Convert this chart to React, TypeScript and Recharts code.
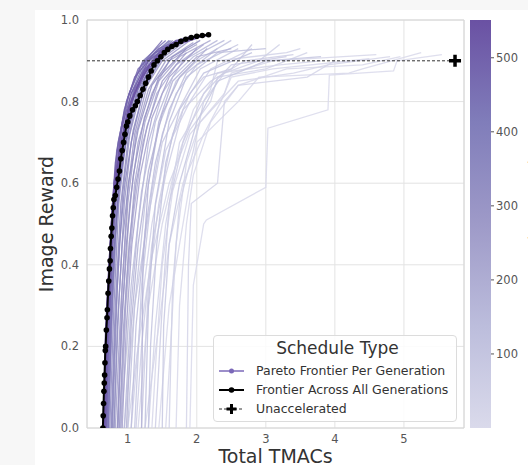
import {
  LineChart,
  Line,
  XAxis,
  YAxis,
  CartesianGrid,
  ReferenceArea,
  Legend,
  BarChart,
  Bar,
} from 'recharts';

const FONT = '"DejaVu Sans", sans-serif';

const X_TICKS = [1, 2, 3, 4, 5];
const Y_TICKS = [0, 0.2, 0.4, 0.6, 0.8, 1.0];
const CBAR_TICKS = [100, 200, 300, 400, 500];
const CBAR_MAX = 551;
const X_DOMAIN: [number, number] = [0.41, 5.87];

const UNACCEL_REWARD = 0.9;
const UNACCEL_TMACS = 5.74;

// generation number of every pareto curve, same order as PARETO_CURVES
const PARETO_GENERATIONS = [
  3, 8, 10, 12, 18, 20, 25, 30, 35, 40, 45, 50, 60, 65, 70, 80, 90, 100, 110, 115, 130, 140, 145,
  160, 180, 190, 200, 220, 240, 250, 260, 270, 280, 300, 310, 320, 330, 340, 360, 370, 380, 400,
  410, 420, 440, 450, 460, 470, 480, 490, 500, 510, 520, 530, 540, 545,
];

// [total TMACs, image reward]
const PARETO_CURVES: [number, number][][] = [
  [[1.9, 0], [1.95, 0.35], [2.1, 0.5], [2.14, 0.51], [3.0, 0.59], [3.03, 0.735], [3.9, 0.78], [3.92, 0.865], [4.85, 0.875], [4.9, 0.9], [5.55, 0.915]],
  [[1.45, 0], [1.6, 0.3], [1.75, 0.45], [1.9, 0.6], [2.0, 0.7], [2.6, 0.8], [2.9, 0.86], [4.2, 0.87], [4.4, 0.88], [5.25, 0.92]],
  [[1.7, 0], [1.75, 0.3], [1.85, 0.5], [1.95, 0.62], [2.2, 0.75], [2.6, 0.84], [3.3, 0.88], [4.4, 0.89], [4.95, 0.91]],
  [[1.25, 0], [1.45, 0.25], [1.6, 0.45], [1.8, 0.6], [2.1, 0.72], [2.35, 0.8], [2.5, 0.86], [3.1, 0.88], [4.5, 0.905]],
  [[1.55, 0], [1.62, 0.2], [1.7, 0.45], [1.85, 0.65], [2.05, 0.75], [2.6, 0.85], [3.4, 0.87], [3.9, 0.89], [4.8, 0.91]],
  [[1.35, 0], [1.42, 0.2], [1.5, 0.4], [1.65, 0.58], [1.9, 0.72], [2.4, 0.82], [2.5, 0.87], [3.1, 0.9], [4.6, 0.915]],
  [[1.15, 0], [1.3, 0.3], [1.5, 0.5], [1.7, 0.65], [1.95, 0.78], [2.3, 0.87], [3.2, 0.89], [3.8, 0.9]],
  [[1.85, 0], [1.88, 0.4], [1.92, 0.55], [2.3, 0.6], [2.4, 0.8], [2.6, 0.84], [3.6, 0.86], [4.0, 0.9]],
  [[1.0, 0], [1.15, 0.2], [1.35, 0.42], [1.6, 0.6], [1.9, 0.73], [2.2, 0.8], [2.3, 0.86], [3.0, 0.88], [3.6, 0.92]],
  [[1.3, 0], [1.4, 0.25], [1.55, 0.5], [1.75, 0.7], [2.2, 0.83], [2.3, 0.9], [3.3, 0.92], [3.5, 0.93]],
  [[1.6, 0], [1.65, 0.35], [1.75, 0.55], [1.95, 0.68], [2.1, 0.8], [2.4, 0.87], [2.9, 0.9], [3.2, 0.94]],
  [[1.05, 0], [1.2, 0.3], [1.35, 0.5], [1.55, 0.68], [1.9, 0.8], [2.2, 0.88], [2.8, 0.93]],
  [[1.4, 0], [1.5, 0.3], [1.6, 0.55], [1.8, 0.7], [2.1, 0.82], [2.5, 0.89], [3.3, 0.91]],
  [[1.12, 0], [1.2, 0.2], [1.35, 0.45], [1.55, 0.62], [1.8, 0.78], [2.2, 0.85], [2.7, 0.9], [3.4, 0.915]],
  [[1.2, 0], [1.3, 0.35], [1.45, 0.55], [1.65, 0.72], [1.9, 0.82], [2.1, 0.86], [2.5, 0.88], [2.8, 0.94]],
  [[0.95, 0], [1.1, 0.3], [1.3, 0.52], [1.5, 0.7], [1.8, 0.8], [2.05, 0.88], [2.6, 0.93]],
  [[1.5, 0], [1.52, 0.25], [1.6, 0.45], [1.75, 0.6], [2.0, 0.75], [2.3, 0.85], [3.0, 0.9], [3.8, 0.91]],
  [[1.1, 0], [1.2, 0.35], [1.35, 0.58], [1.5, 0.72], [1.7, 0.82], [2.0, 0.89], [2.6, 0.94]],
  [[1.3, 0], [1.33, 0.2], [1.42, 0.45], [1.55, 0.65], [1.75, 0.78], [2.1, 0.87], [2.8, 0.92]],
  [[1.0, 0], [1.1, 0.3], [1.25, 0.55], [1.45, 0.74], [1.7, 0.85], [2.0, 0.9], [2.5, 0.95]],
  [[1.25, 0], [1.3, 0.3], [1.4, 0.55], [1.6, 0.75], [1.85, 0.86], [2.3, 0.92], [3.0, 0.93]],
  [[1.05, 0], [1.12, 0.25], [1.25, 0.48], [1.4, 0.65], [1.6, 0.78], [1.85, 0.87], [2.3, 0.93]],
  [[0.9, 0], [1.05, 0.35], [1.2, 0.58], [1.4, 0.75], [1.65, 0.86], [1.95, 0.91], [2.4, 0.95]],
  [[0.95, 0], [1.05, 0.3], [1.15, 0.5], [1.3, 0.7], [1.5, 0.82], [1.8, 0.9], [2.3, 0.95]],
  [[1.2, 0], [1.22, 0.4], [1.3, 0.6], [1.45, 0.75], [1.65, 0.85], [2.0, 0.91], [2.5, 0.93]],
  [[0.98, 0], [1.05, 0.25], [1.15, 0.45], [1.3, 0.63], [1.5, 0.77], [1.75, 0.86], [2.15, 0.93]],
  [[0.88, 0], [0.97, 0.3], [1.08, 0.52], [1.22, 0.7], [1.42, 0.82], [1.7, 0.89], [2.1, 0.94]],
  [[0.9, 0], [0.98, 0.35], [1.1, 0.6], [1.25, 0.75], [1.45, 0.85], [1.75, 0.91], [2.2, 0.95]],
  [[0.85, 0], [0.93, 0.3], [1.03, 0.55], [1.15, 0.7], [1.35, 0.82], [1.6, 0.9], [2.0, 0.94]],
  [[0.92, 0], [0.98, 0.25], [1.06, 0.45], [1.18, 0.62], [1.35, 0.76], [1.6, 0.86], [2.0, 0.93]],
  [[0.82, 0], [0.9, 0.3], [1.0, 0.55], [1.12, 0.72], [1.3, 0.83], [1.55, 0.9], [1.95, 0.945]],
  [[0.88, 0], [0.94, 0.25], [1.02, 0.45], [1.12, 0.6], [1.28, 0.74], [1.5, 0.85], [1.85, 0.92]],
  [[0.85, 0], [0.92, 0.35], [1.0, 0.58], [1.1, 0.72], [1.28, 0.84], [1.5, 0.9], [1.9, 0.95]],
  [[0.8, 0], [0.87, 0.3], [0.95, 0.55], [1.05, 0.7], [1.22, 0.82], [1.45, 0.9], [1.85, 0.95]],
  [[0.86, 0], [0.91, 0.25], [0.98, 0.45], [1.08, 0.62], [1.24, 0.76], [1.45, 0.86], [1.85, 0.93]],
  [[0.78, 0], [0.85, 0.35], [0.93, 0.58], [1.03, 0.72], [1.18, 0.82], [1.4, 0.9], [1.8, 0.95]],
  [[0.8, 0], [0.85, 0.25], [0.92, 0.45], [1.01, 0.6], [1.15, 0.73], [1.35, 0.84], [1.65, 0.91], [2.05, 0.95]],
  [[0.76, 0], [0.82, 0.3], [0.9, 0.55], [1.0, 0.7], [1.15, 0.82], [1.35, 0.89], [1.7, 0.945]],
  [[0.74, 0], [0.8, 0.3], [0.87, 0.55], [0.97, 0.7], [1.12, 0.82], [1.32, 0.9], [1.7, 0.95]],
  [[0.77, 0], [0.82, 0.25], [0.88, 0.45], [0.96, 0.6], [1.08, 0.73], [1.25, 0.84], [1.55, 0.92]],
  [[0.72, 0], [0.78, 0.3], [0.85, 0.55], [0.95, 0.7], [1.1, 0.82], [1.3, 0.9], [1.65, 0.95]],
  [[0.71, 0], [0.76, 0.3], [0.83, 0.55], [0.93, 0.7], [1.07, 0.82], [1.27, 0.9], [1.62, 0.95]],
  [[0.7, 0], [0.74, 0.2], [0.79, 0.4], [0.85, 0.55], [0.94, 0.67], [1.08, 0.78], [1.28, 0.87], [1.6, 0.93]],
  [[0.7, 0], [0.75, 0.3], [0.81, 0.55], [0.9, 0.7], [1.05, 0.82], [1.25, 0.9], [1.6, 0.95]],
  [[0.69, 0], [0.73, 0.3], [0.8, 0.55], [0.88, 0.7], [1.02, 0.82], [1.22, 0.9], [1.55, 0.95]],
  [[0.72, 0], [0.76, 0.25], [0.81, 0.45], [0.88, 0.6], [0.99, 0.72], [1.15, 0.83], [1.42, 0.91], [1.8, 0.95]],
  [[0.68, 0], [0.72, 0.3], [0.78, 0.55], [0.86, 0.7], [1.0, 0.81], [1.2, 0.89], [1.5, 0.95]],
  [[0.68, 0], [0.72, 0.22], [0.77, 0.42], [0.82, 0.56], [0.91, 0.68], [1.04, 0.79], [1.22, 0.87], [1.5, 0.93], [1.85, 0.955]],
  [[0.67, 0], [0.71, 0.3], [0.77, 0.52], [0.84, 0.68], [0.98, 0.8], [1.15, 0.88], [1.45, 0.93], [1.8, 0.955]],
  [[0.69, 0], [0.73, 0.25], [0.78, 0.45], [0.84, 0.6], [0.94, 0.72], [1.1, 0.83], [1.35, 0.9], [1.7, 0.94]],
  [[0.66, 0], [0.7, 0.3], [0.76, 0.5], [0.82, 0.65], [0.95, 0.78], [1.1, 0.86], [1.4, 0.92], [1.9, 0.96]],
  [[0.67, 0], [0.7, 0.2], [0.75, 0.4], [0.8, 0.55], [0.88, 0.66], [1.0, 0.77], [1.17, 0.85], [1.4, 0.91], [1.75, 0.95]],
  [[0.65, 0], [0.69, 0.25], [0.75, 0.45], [0.8, 0.6], [0.92, 0.74], [1.05, 0.82], [1.3, 0.9], [1.7, 0.95], [2.1, 0.96]],
  [[0.66, 0], [0.7, 0.25], [0.75, 0.43], [0.8, 0.58], [0.9, 0.7], [1.04, 0.8], [1.25, 0.88], [1.55, 0.93], [2.0, 0.955]],
  [[0.64, 0], [0.68, 0.25], [0.74, 0.42], [0.78, 0.55], [0.88, 0.68], [1.0, 0.78], [1.2, 0.86], [1.45, 0.91], [1.8, 0.95], [2.2, 0.963]],
  [[0.65, 0], [0.68, 0.2], [0.72, 0.38], [0.77, 0.52], [0.85, 0.64], [0.96, 0.74], [1.1, 0.82], [1.32, 0.89], [1.6, 0.935], [2.0, 0.958]],
];

const FRONTIER: [number, number][] = [
  [0.64, 0.0], [0.645, 0.03], [0.65, 0.06], [0.655, 0.09], [0.66, 0.11], [0.665, 0.13], [0.67, 0.16],
  [0.675, 0.19], [0.68, 0.2], [0.69, 0.24], [0.7, 0.27], [0.705, 0.29], [0.715, 0.33], [0.725, 0.36],
  [0.735, 0.39], [0.745, 0.41], [0.75, 0.44], [0.76, 0.47], [0.77, 0.49], [0.78, 0.52], [0.79, 0.54],
  [0.8, 0.56], [0.82, 0.57], [0.84, 0.59], [0.86, 0.61], [0.88, 0.63], [0.9, 0.66], [0.92, 0.68],
  [0.94, 0.7], [0.96, 0.72], [0.98, 0.74], [1.0, 0.75], [1.03, 0.765], [1.07, 0.78], [1.11, 0.79],
  [1.14, 0.8], [1.18, 0.815], [1.22, 0.83], [1.26, 0.845], [1.3, 0.86], [1.34, 0.875], [1.38, 0.89],
  [1.43, 0.9], [1.48, 0.91], [1.53, 0.92], [1.58, 0.928], [1.64, 0.935], [1.7, 0.94], [1.77, 0.948],
  [1.84, 0.953], [1.92, 0.957], [2.0, 0.96], [2.08, 0.962], [2.17, 0.964],
];

const PURPLES = ['#fcfbfd', '#efedf5', '#dadaeb', '#bcbddc', '#9e9ac8', '#807dba', '#6a51a3', '#54278f', '#3f007d'];

function hexToRgb(h: string) {
  return [1, 3, 5].map((i) => parseInt(h.slice(i, i + 2), 16));
}

function purples(t: number) {
  const p = Math.max(0, Math.min(1, t)) * (PURPLES.length - 1);
  const i = Math.min(Math.floor(p), PURPLES.length - 2);
  const f = p - i;
  const a = hexToRgb(PURPLES[i]);
  const b = hexToRgb(PURPLES[i + 1]);
  const c = a.map((v, k) => Math.round(v + (b[k] - v) * f));
  return `rgb(${c[0]},${c[1]},${c[2]})`;
}

// colorbar covers the middle half of the Purples map
const genColor = (gen: number) => purples(0.25 + (0.5 * gen) / CBAR_MAX);

const toPoints = (pts: [number, number][]) => pts.map(([x, y]) => ({ x, y }));

function PlusMarker(props: any) {
  const { cx, cy, index } = props;
  if (index !== 1 || cx == null) return <g key={`u-${index}`} />;
  return (
    <path
      key={`u-${index}`}
      d={`M${cx - 6},${cy}H${cx + 6}M${cx},${cy - 6}V${cy + 6}`}
      stroke="#000"
      strokeWidth={3.5}
    />
  );
}

function LegendBox() {
  const row = { display: 'flex', alignItems: 'center', height: 19, fontSize: 12.5 } as const;
  return (
    <div
      style={{
        width: 244,
        height: 87,
        boxSizing: 'border-box',
        border: '1px solid #dcdcdc',
        borderRadius: 4,
        background: 'rgba(255,255,255,0.85)',
        fontFamily: FONT,
        color: '#333',
        paddingLeft: 5,
      }}
    >
      <div style={{ fontSize: 17, textAlign: 'center', lineHeight: '20px', marginTop: 2, marginBottom: 3 }}>
        Schedule Type
      </div>
      <div style={row}>
        <svg width={25} height={10} style={{ marginRight: 12 }}>
          <line x1={0} y1={5} x2={25} y2={5} stroke="#7b68b8" strokeWidth={1.5} />
          <circle cx={12.5} cy={5} r={2.5} fill="#7b68b8" />
        </svg>
        Pareto Frontier Per Generation
      </div>
      <div style={row}>
        <svg width={25} height={10} style={{ marginRight: 12 }}>
          <line x1={0} y1={5} x2={25} y2={5} stroke="#000" strokeWidth={2} />
          <circle cx={12.5} cy={5} r={2.8} fill="#000" />
        </svg>
        Frontier Across All Generations
      </div>
      <div style={row}>
        <svg width={25} height={12} style={{ marginRight: 12 }}>
          <line x1={0} y1={6} x2={25} y2={6} stroke="#333" strokeWidth={1} strokeDasharray="3 2" />
          <path d="M7.5,6H17.5M12.5,1V11" stroke="#000" strokeWidth={3} />
        </svg>
        Unaccelerated
      </div>
    </div>
  );
}

export default function App() {
  const tick = { fill: '#555', fontSize: 11.5, fontFamily: FONT };
  return (
    <div
      style={{
        position: 'absolute',
        left: 0,
        top: 0,
        width: 528,
        height: 465,
        background: '#f7f7f7',
        overflow: 'hidden',
      }}
    >
      <div style={{ position: 'absolute', left: 35, top: 10, right: 0, bottom: 0, background: '#fff' }} />
      <div style={{ position: 'absolute', left: 0, top: 0 }}>
        <LineChart width={528} height={465} margin={{ top: 20, right: 64, bottom: 0, left: 27 }}>
          <CartesianGrid stroke="#e3e3e3" />
          <XAxis
            type="number"
            dataKey="x"
            domain={X_DOMAIN}
            ticks={X_TICKS}
            allowDataOverflow
            axisLine={false}
            tickLine={false}
            tick={tick}
            tickMargin={1}
            height={37}
            label={{
              value: 'Total TMACs',
              position: 'insideBottom',
              offset: 2,
              style: { fill: '#333', fontSize: 19, fontFamily: FONT },
            }}
          />
          <YAxis
            type="number"
            dataKey="y"
            domain={[0, 1]}
            ticks={Y_TICKS}
            allowDataOverflow
            axisLine={false}
            tickLine={false}
            tick={tick}
            tickMargin={2}
            tickFormatter={(v: number) => v.toFixed(1)}
            width={60}
            label={{
              value: 'Image Reward',
              angle: -90,
              position: 'insideLeft',
              offset: 19,
              style: { fill: '#333', fontSize: 19, fontFamily: FONT, textAnchor: 'middle' },
            }}
          />
          <ReferenceArea
            x1={X_DOMAIN[0]}
            x2={X_DOMAIN[1]}
            y1={0}
            y2={1}
            fill="none"
            stroke="#d6d6d6"
            ifOverflow="visible"
          />
          {PARETO_CURVES.map((pts, i) => (
            <Line
              key={`gen-${PARETO_GENERATIONS[i]}`}
              data={toPoints(pts)}
              dataKey="y"
              type="linear"
              stroke={genColor(PARETO_GENERATIONS[i])}
              strokeWidth={1.3}
              strokeOpacity={0.85}
              dot={false}
              isAnimationActive={false}
            />
          ))}
          <Line
            data={toPoints(FRONTIER)}
            dataKey="y"
            type="linear"
            stroke="#000"
            strokeWidth={2}
            dot={{ r: 2.8, fill: '#000', stroke: 'none' }}
            isAnimationActive={false}
          />
          <Line
            data={toPoints([
              [X_DOMAIN[0], UNACCEL_REWARD],
              [UNACCEL_TMACS, UNACCEL_REWARD],
            ])}
            dataKey="y"
            type="linear"
            stroke="#333"
            strokeWidth={1}
            strokeDasharray="3 2"
            dot={PlusMarker}
            isAnimationActive={false}
          />
          <Legend
            layout="vertical"
            align="center"
            verticalAlign="middle"
            content={() => <LegendBox />}
            wrapperStyle={{ left: 213, top: 335, width: 244, height: 87 }}
          />
        </LineChart>
      </div>
      <div style={{ position: 'absolute', left: 470, top: 0 }}>
        <BarChart
          width={58}
          height={465}
          data={[{ name: 'generation', value: CBAR_MAX }]}
          margin={{ top: 20, right: 0, bottom: 37, left: 0 }}
          barCategoryGap={0}
        >
          <defs>
            <linearGradient id="cbarGrad" x1="0" y1="1" x2="0" y2="0">
              <stop offset="0%" stopColor={purples(0.25)} />
              <stop offset="25%" stopColor={purples(0.375)} />
              <stop offset="50%" stopColor={purples(0.5)} />
              <stop offset="75%" stopColor={purples(0.625)} />
              <stop offset="100%" stopColor={purples(0.75)} />
            </linearGradient>
          </defs>
          <XAxis dataKey="name" hide />
          <YAxis
            orientation="right"
            type="number"
            domain={[0, CBAR_MAX]}
            ticks={CBAR_TICKS}
            axisLine={false}
            tickSize={3}
            tickLine={{ stroke: '#555' }}
            tick={tick}
            tickMargin={2}
            width={37}
            label={{
              value: 'Generation Number',
              angle: -90,
              position: 'insideRight',
              offset: -8,
              style: { fill: '#333', fontSize: 18, fontFamily: FONT, textAnchor: 'middle' },
            }}
          />
          <Bar dataKey="value" fill="url(#cbarGrad)" isAnimationActive={false} />
        </BarChart>
      </div>
    </div>
  );
}
